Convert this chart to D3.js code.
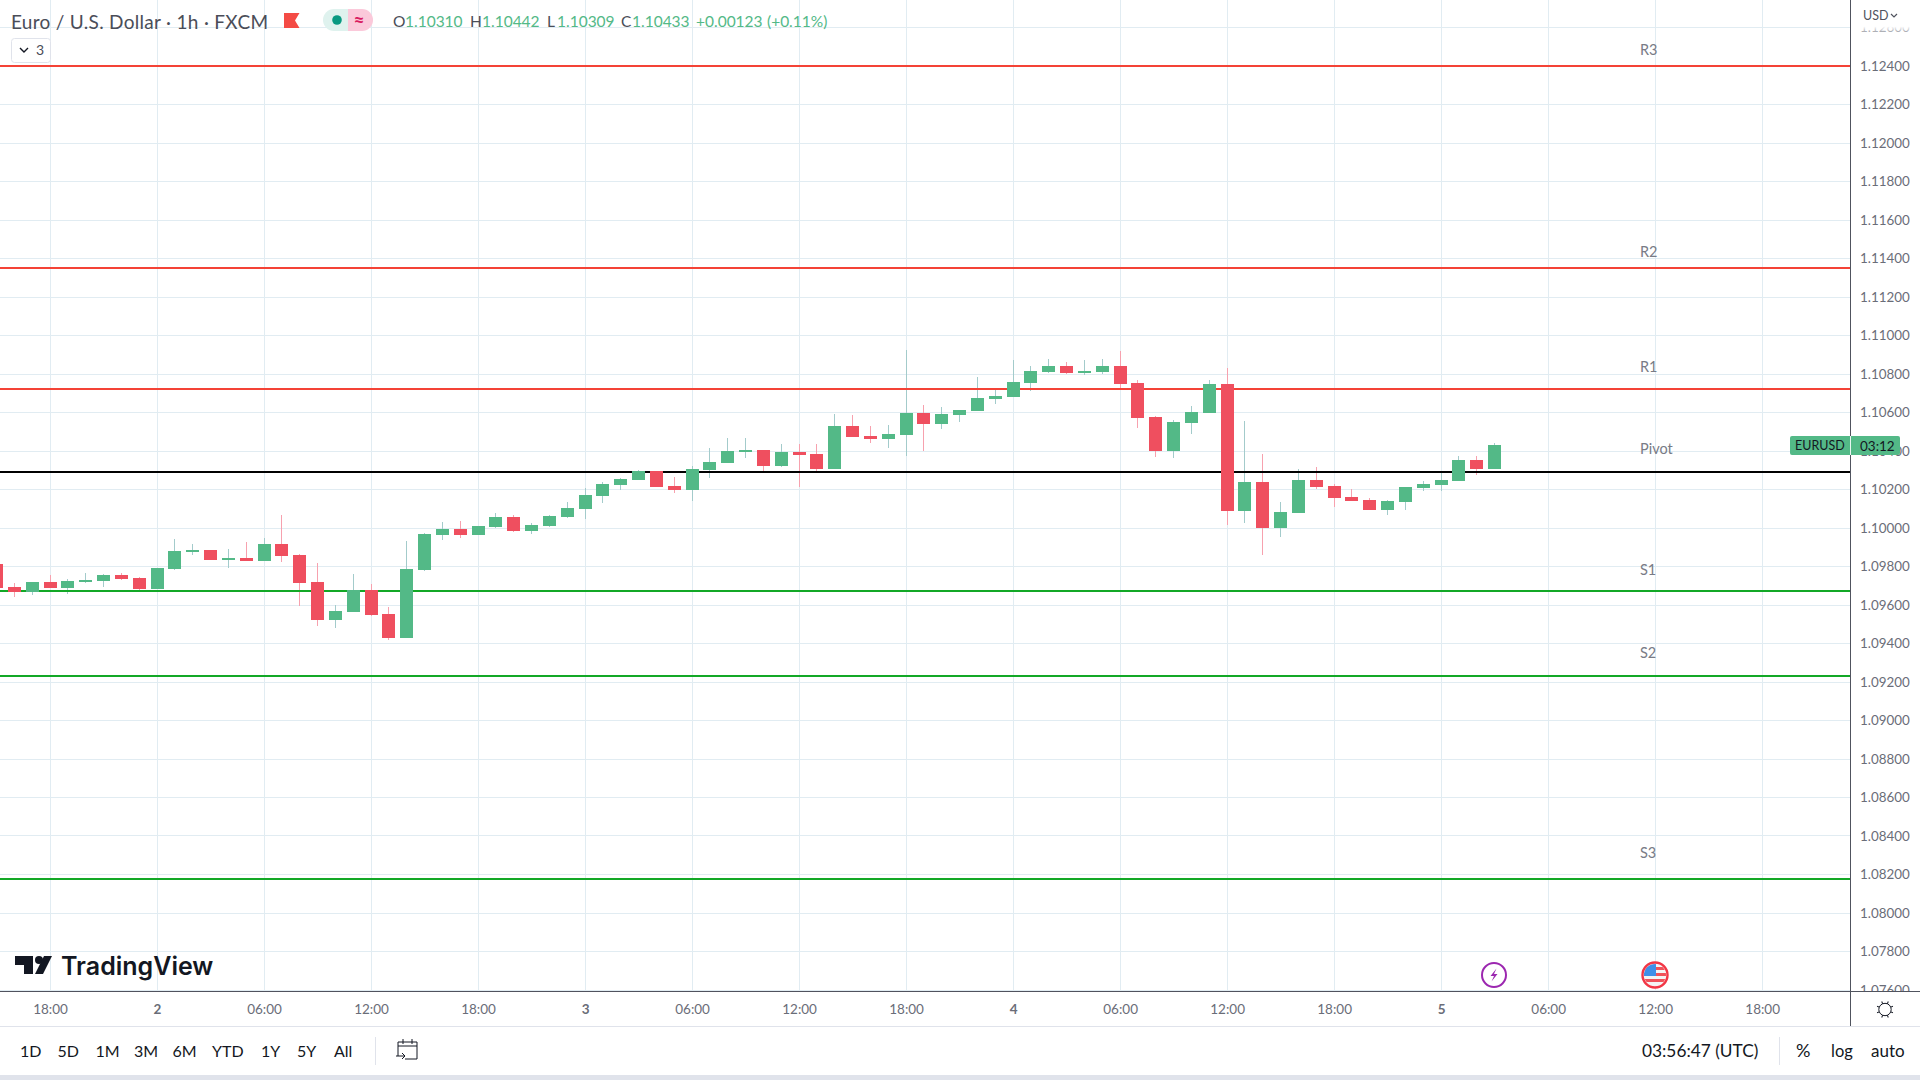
<!DOCTYPE html>
<html>
<head>
<meta charset="utf-8">
<script src="https://cdn.jsdelivr.net/npm/d3@7/dist/d3.min.js"></script>
<style>
  body, html { margin: 0; padding: 0; background: #fff; overflow: hidden; }
  svg { display: block; }
  text { font-family: Lato, "Open Sans", sans-serif; }
</style>
</head>
<body>
<svg width="1920" height="1080"></svg>
<script>
// one entry per hourly bar, oldest first
var opens = [
  1.09813, 1.09694, 1.09668, 1.09720, 1.09688, 1.09720, 1.09725, 1.09756, 1.09740, 1.09683,
  1.09787, 1.09875, 1.09886, 1.09834, 1.09844, 1.09829, 1.09917, 1.09860, 1.09720, 1.09522,
  1.09564, 1.09678, 1.09553, 1.09429, 1.09782, 1.09964, 1.09995, 1.09964, 1.10005, 1.10057,
  1.09984, 1.10010, 1.10057, 1.10099, 1.10166, 1.10223, 1.10249, 1.10296, 1.10218, 1.10197,
  1.10301, 1.10338, 1.10395, 1.10405, 1.10322, 1.10395, 1.10384, 1.10307, 1.10530, 1.10478,
  1.10462, 1.10483, 1.10597, 1.10540, 1.10587, 1.10608, 1.10670, 1.10681, 1.10753, 1.10810,
  1.10842, 1.10805, 1.10810, 1.10842, 1.10753, 1.10577, 1.10400, 1.10545, 1.10597, 1.10748,
  1.10088, 1.10239, 1.10000, 1.10078, 1.10249, 1.10218, 1.10161, 1.10145, 1.10094, 1.10135,
  1.10208, 1.10223, 1.10244, 1.10353, 1.10310
];
var closes = [
  1.09688, 1.09668, 1.09720, 1.09688, 1.09725, 1.09730, 1.09756, 1.09735, 1.09683, 1.09792,
  1.09881, 1.09886, 1.09834, 1.09844, 1.09829, 1.09917, 1.09855, 1.09714, 1.09522, 1.09569,
  1.09678, 1.09548, 1.09429, 1.09787, 1.09969, 1.09995, 1.09964, 1.10010, 1.10057, 1.09984,
  1.10016, 1.10062, 1.10104, 1.10171, 1.10229, 1.10255, 1.10296, 1.10213, 1.10197, 1.10307,
  1.10343, 1.10400, 1.10405, 1.10322, 1.10395, 1.10379, 1.10307, 1.10530, 1.10473, 1.10462,
  1.10488, 1.10597, 1.10540, 1.10592, 1.10613, 1.10675, 1.10686, 1.10758, 1.10816, 1.10842,
  1.10805, 1.10816, 1.10842, 1.10748, 1.10571, 1.10400, 1.10551, 1.10603, 1.10748, 1.10088,
  1.10239, 1.10000, 1.10083, 1.10249, 1.10213, 1.10156, 1.10140, 1.10094, 1.10140, 1.10213,
  1.10229, 1.10249, 1.10353, 1.10306, 1.10433
];
var highs = [
  1.09813, 1.09714, 1.09720, 1.09756, 1.09735, 1.09766, 1.09761, 1.09766, 1.09746, 1.09792,
  1.09943, 1.09917, 1.09886, 1.09891, 1.09927, 1.09948, 1.10068, 1.09865, 1.09818, 1.09600,
  1.09761, 1.09709, 1.09590, 1.09933, 1.09974, 1.10031, 1.10036, 1.10010, 1.10078, 1.10068,
  1.10026, 1.10068, 1.10135, 1.10208, 1.10239, 1.10260, 1.10301, 1.10296, 1.10265, 1.10322,
  1.10416, 1.10468, 1.10468, 1.10405, 1.10436, 1.10436, 1.10436, 1.10592, 1.10587, 1.10530,
  1.10535, 1.10925, 1.10639, 1.10628, 1.10613, 1.10784, 1.10727, 1.10873, 1.10842, 1.10878,
  1.10862, 1.10873, 1.10878, 1.10920, 1.10769, 1.10582, 1.10561, 1.10634, 1.10769, 1.10831,
  1.10556, 1.10384, 1.10135, 1.10306, 1.10317, 1.10229, 1.10203, 1.10156, 1.10145, 1.10213,
  1.10244, 1.10296, 1.10374, 1.10374, 1.10442
];
var lows = [
  1.09688, 1.09642, 1.09652, 1.09688, 1.09657, 1.09714, 1.09694, 1.09730, 1.09673, 1.09683,
  1.09782, 1.09860, 1.09834, 1.09792, 1.09829, 1.09829, 1.09823, 1.09595, 1.09491, 1.09481,
  1.09564, 1.09543, 1.09418, 1.09429, 1.09777, 1.09938, 1.09948, 1.09964, 1.10000, 1.09979,
  1.09969, 1.10005, 1.10052, 1.10047, 1.10130, 1.10197, 1.10249, 1.10213, 1.10182, 1.10140,
  1.10260, 1.10338, 1.10364, 1.10296, 1.10317, 1.10213, 1.10291, 1.10307, 1.10473, 1.10442,
  1.10416, 1.10374, 1.10400, 1.10514, 1.10551, 1.10608, 1.10644, 1.10681, 1.10712, 1.10805,
  1.10800, 1.10795, 1.10800, 1.10722, 1.10519, 1.10369, 1.10364, 1.10488, 1.10597, 1.10016,
  1.10026, 1.09860, 1.09953, 1.10078, 1.10203, 1.10109, 1.10140, 1.10094, 1.10068, 1.10094,
  1.10192, 1.10192, 1.10244, 1.10275, 1.10309
];

var priceTicks = d3.range(1.076, 1.1261, 0.002);
var timeTickBars = [3, 9, 15, 21, 27, 33, 39, 45, 51, 57, 63, 69, 75, 81, 87, 93, 99];
var timeTickLabels = ['18:00', '2', '06:00', '12:00', '18:00', '3', '06:00', '12:00', '18:00', '4', '06:00', '12:00', '18:00', '5', '06:00', '12:00', '18:00'];
var dayLabels = ['2', '3', '4', '5'];

var resistanceNames = ['R3', 'R2', 'R1'];
var resistanceValues = [1.12400, 1.11353, 1.10723];
var pivotName = 'Pivot';
var pivotValue = 1.10291;
var supportNames = ['S1', 'S2', 'S3'];
var supportValues = [1.09673, 1.09231, 1.08178];

var rangeButtons = ['1D', '5D', '1M', '3M', '6M', 'YTD', '1Y', '5Y', 'All'];

var width = 1920, axisX = 1850, plotBottom = 992;
var green = '#53b987', red = '#ef4f5f', gridColor = '#e1ecf2', axisColor = '#50535e', labelColor = '#787b86';

var x = d3.scaleLinear().domain([0, 84]).range([-3.5, 1494.64]);
var y = d3.scaleLinear().domain([1.124, 1.078]).range([66, 951.5]);

function px(i) { return Math.floor(x(i)); }

var svg = d3.select('svg');
svg.append('defs').append('clipPath').attr('id', 'plot')
  .append('rect').attr('width', axisX).attr('height', plotBottom);

var plot = svg.append('g').attr('clip-path', 'url(#plot)').attr('shape-rendering', 'crispEdges');

// grid
plot.selectAll('.hgrid').data(priceTicks).enter().append('line')
  .attr('x1', 0).attr('x2', axisX)
  .attr('y1', function (d) { return Math.floor(y(d)) + 0.5; }).attr('y2', function (d) { return Math.floor(y(d)) + 0.5; })
  .attr('stroke', gridColor);
plot.selectAll('.vgrid').data(timeTickBars).enter().append('line')
  .attr('x1', function (d) { return px(d) + 0.5; }).attr('x2', function (d) { return px(d) + 0.5; })
  .attr('y1', 0).attr('y2', plotBottom)
  .attr('stroke', gridColor);

// candles
var bars = d3.range(opens.length);
function barColor(i) { return closes[i] >= opens[i] ? green : red; }
plot.selectAll('.wick').data(bars).enter().append('line')
  .attr('x1', function (i) { return px(i) + 0.5; })
  .attr('x2', function (i) { return px(i) + 0.5; })
  .attr('y1', function (i) { return Math.round(y(highs[i])); })
  .attr('y2', function (i) { return Math.round(y(lows[i])); })
  .attr('stroke', function (i) { return closes[i] >= opens[i] ? '#a3cbcb' : '#f7a1ae'; });

// pivot levels
var levels = resistanceValues.map(function (v) { return { v: v, c: '#f44336' }; })
  .concat([{ v: pivotValue, c: '#000000' }])
  .concat(supportValues.map(function (v) { return { v: v, c: '#13a826' }; }));
plot.selectAll('.level').data(levels).enter().append('line')
  .attr('x1', 0).attr('x2', axisX)
  .attr('y1', function (d) { return Math.round(y(d.v)); }).attr('y2', function (d) { return Math.round(y(d.v)); })
  .attr('stroke', function (d) { return d.c; }).attr('stroke-width', 2);

plot.selectAll('.body').data(bars).enter().append('rect')
  .attr('x', function (i) { return px(i) - 6; })
  .attr('width', 13)
  .attr('y', function (i) { return Math.round(y(Math.max(opens[i], closes[i]))); })
  .attr('height', function (i) { return Math.max(1, Math.round(Math.abs(y(opens[i]) - y(closes[i])))); })
  .attr('fill', barColor);

// level names sit a little above each line, offsets differ per level
var levelNames = resistanceNames.concat([pivotName]).concat(supportNames);
var nameLift = [16, 16, 22, 23.5, 21.5, 23, 26];
svg.selectAll('.levelname').data(levelNames).enter().append('text')
  .attr('x', 1640).attr('y', function (d, i) { return y(levels[i].v) - nameLift[i]; })
  .attr('dy', '0.35em').attr('font-size', 14.5).attr('fill', labelColor).text(function (d) { return d; });

// price axis
var priceAxis = d3.axisRight(y).tickValues(priceTicks).tickSize(0).tickPadding(10)
  .tickFormat(d3.format('.5f'));
var yAxis = svg.append('g').attr('transform', 'translate(' + axisX + ',0)').call(priceAxis);
yAxis.select('.domain').remove();
yAxis.selectAll('text').attr('font-size', 13.4).attr('fill', '#6a6d78')
  .style('font-family', 'Lato, sans-serif');

// cover for price labels leaving the top and the bottom of the axis
var fade = svg.select('defs').append('linearGradient').attr('id', 'topfade').attr('x1', 0).attr('x2', 0).attr('y1', 0).attr('y2', 1);
fade.append('stop').attr('offset', 0.8).attr('stop-color', '#fff');
fade.append('stop').attr('offset', 1).attr('stop-color', '#fff').attr('stop-opacity', 0.3);
svg.append('rect').attr('x', axisX + 1).attr('y', 0).attr('width', 70).attr('height', 33).attr('fill', 'url(#topfade)');
svg.append('rect').attr('x', 0).attr('y', plotBottom).attr('width', width).attr('height', 88).attr('fill', '#fff');
svg.append('text').attr('x', 1863).attr('y', 16).attr('dy', '0.35em').attr('font-size', 12.5).attr('fill', '#50535e').text('USD');
svg.append('path').attr('d', 'M1891 14l3 3l3 -3').attr('fill', 'none').attr('stroke', '#50535e').attr('stroke-width', 1.2);

// axis lines
var frame = svg.append('g').attr('shape-rendering', 'crispEdges');
frame.append('line').attr('x1', axisX + 0.5).attr('x2', axisX + 0.5).attr('y1', 0).attr('y2', 1026).attr('stroke', axisColor);
frame.append('line').attr('x1', 0).attr('x2', width).attr('y1', plotBottom - 0.5).attr('y2', plotBottom - 0.5).attr('stroke', axisColor);
frame.append('line').attr('x1', 0).attr('x2', width).attr('y1', 1026.5).attr('y2', 1026.5).attr('stroke', '#e0e3eb');
frame.append('rect').attr('x', 0).attr('y', 1075).attr('width', width).attr('height', 5).attr('fill', '#e0e3eb');

// time axis
var timeAxis = d3.axisBottom(x).tickValues(timeTickBars).tickSize(0).tickPadding(12)
  .tickFormat(function (d) { return timeTickLabels[timeTickBars.indexOf(d)]; });
var xAxis = svg.append('g').attr('transform', 'translate(0,' + plotBottom + ')').call(timeAxis);
xAxis.select('.domain').remove();
xAxis.selectAll('.tick').filter(function (d) { return x(d) > axisX; }).remove();
xAxis.selectAll('text').attr('font-size', 13.5).attr('fill', '#6a6d78')
  .style('font-family', 'Lato, sans-serif')
  .attr('font-weight', function (d) { return dayLabels.indexOf(timeTickLabels[timeTickBars.indexOf(d)]) >= 0 ? 700 : 400; });

// gear
var gear = svg.append('g').attr('transform', 'translate(1885,1009.5)').attr('fill', 'none').attr('stroke', '#131722');
gear.append('circle').attr('r', 6.2);
d3.range(8).forEach(function (k) {
  gear.append('line').attr('x1', 0).attr('x2', 0).attr('y1', -6.2).attr('y2', -8.6)
    .attr('transform', 'rotate(' + (k * 45 + 22.5) + ')');
});

// current price tag
svg.append('rect').attr('x', 1790).attr('y', 436).attr('width', 110).attr('height', 19).attr('rx', 2).attr('fill', green);
svg.append('line').attr('x1', axisX + 0.5).attr('x2', axisX + 0.5).attr('y1', 436).attr('y2', 455).attr('stroke', '#e9f6f0').attr('shape-rendering', 'crispEdges');
svg.append('text').attr('x', 1795).attr('y', 446).attr('dy', '0.35em').attr('font-size', 12.5).attr('fill', '#131722').text('EURUSD');
svg.append('text').attr('x', 1860).attr('y', 446).attr('dy', '0.35em').attr('font-size', 13.5).attr('fill', '#131722').text('03:12');

// header
svg.append('text').attr('x', 11).attr('y', 22).attr('dy', '0.35em').attr('font-size', 19).attr('letter-spacing', 0.3).attr('fill', '#4a4d58')
  .text('Euro / U.S. Dollar \u00b7 1h \u00b7 FXCM');
svg.append('path').attr('d', 'M284 13h15.5l-4.5 7.5l4.5 7.5h-15.5z').attr('fill', '#f44b45');
svg.append('path').attr('d', 'M334 9h14v22h-14a11 11 0 0 1 0 -22z').attr('fill', '#dff2ee');
svg.append('path').attr('d', 'M348 9h14a11 11 0 0 1 0 22h-14z').attr('fill', '#fbc9da');
svg.append('circle').attr('cx', 337).attr('cy', 20).attr('r', 4.8).attr('fill', '#089981');
svg.append('text').attr('x', 359).attr('y', 20).attr('dy', '0.35em').attr('text-anchor', 'middle').attr('font-size', 19).attr('font-weight', 700).attr('fill', '#d81b60').text('\u2248');

var ohlcNames = ['O', 'H', 'L', 'C'];
var ohlcNameX = [393, 470, 547, 621];
var ohlcValueX = [405, 482, 557, 632];
var last = closes.length - 1;
var ohlcValues = [opens[last], highs[last], lows[last], closes[last]];
ohlcNames.forEach(function (n, i) {
  svg.append('text').attr('x', ohlcNameX[i]).attr('y', 22).attr('dy', '0.35em').attr('font-size', 15.5).attr('fill', '#4a4d58').text(n);
  svg.append('text').attr('x', ohlcValueX[i]).attr('y', 22).attr('dy', '0.35em').attr('font-size', 15.5).attr('fill', green).text(d3.format('.5f')(ohlcValues[i]));
});
svg.append('text').attr('x', 696).attr('y', 22).attr('dy', '0.35em').attr('font-size', 15.5).attr('fill', green).text('+0.00123');
svg.append('text').attr('x', 767).attr('y', 22).attr('dy', '0.35em').attr('font-size', 15.5).attr('fill', green).text('(+0.11%)');

svg.append('rect').attr('x', 11.5).attr('y', 38.5).attr('width', 39).attr('height', 24).attr('rx', 3).attr('fill', '#fff').attr('stroke', '#e0e3eb');
svg.append('path').attr('d', 'M20 48l4 4l4 -4').attr('fill', 'none').attr('stroke', '#131722').attr('stroke-width', 1.4);
svg.append('text').attr('x', 36).attr('y', 50).attr('dy', '0.35em').attr('font-size', 14).attr('fill', '#4a4d58').text('3');

// logo
svg.append('path').attr('d', 'M15 956h18v18h-9v-9h-9z').attr('fill', '#131722');
svg.append('circle').attr('cx', 39).attr('cy', 960).attr('r', 4).attr('fill', '#131722');
svg.append('path').attr('d', 'M44 956h8l-9 18h-8z').attr('fill', '#131722');
svg.append('text').attr('x', 61).attr('y', 966).attr('dy', '0.35em').attr('font-size', 25).attr('font-weight', 600)
  .style('font-family', 'Inter, sans-serif').attr('fill', '#131722').text('TradingView');

// events
var bolt = svg.append('g').attr('transform', 'translate(1494,975)');
bolt.append('circle').attr('r', 12).attr('fill', '#fff').attr('stroke', '#9c27b0').attr('stroke-width', 2);
bolt.append('path').attr('d', 'M2.5 -6.5l-6 7.5h3.5l-2.5 5.5l6 -7.5h-3.5z').attr('fill', '#9c27b0');
var flag = svg.append('g').attr('transform', 'translate(1655,975)');
flag.append('clipPath').attr('id', 'flagclip').append('circle').attr('r', 11);
var flagInner = flag.append('g').attr('clip-path', 'url(#flagclip)');
flagInner.append('rect').attr('x', -11).attr('y', -11).attr('width', 22).attr('height', 22).attr('fill', '#f4f4f4');
d3.range(3).forEach(function (k) {
  flagInner.append('rect').attr('x', -11).attr('y', -8 + k * 6).attr('width', 22).attr('height', 3).attr('fill', '#f0525a');
});
flagInner.append('rect').attr('x', -11).attr('y', -11).attr('width', 12).attr('height', 12).attr('fill', '#3f8fe8');
flag.append('circle').attr('r', 12.5).attr('fill', 'none').attr('stroke', '#f23645').attr('stroke-width', 2.4);

// bottom toolbar
var rangeX = [20, 57.5, 95.5, 134, 172.5, 212, 261, 297, 334];
svg.selectAll('.range').data(rangeButtons).enter().append('text')
  .attr('x', function (d, i) { return rangeX[i]; }).attr('y', 1051).attr('dy', '0.35em')
  .attr('font-size', 16).attr('fill', '#131722').text(function (d) { return d; });
svg.append('line').attr('x1', 375.5).attr('x2', 375.5).attr('y1', 1037).attr('y2', 1065).attr('stroke', '#e0e3eb');
svg.append('path').attr('d', 'M398 1056v-14h19v17h-12M398 1046h19M403 1039v5M412 1039v5M396 1056h9M402 1053l3 3l-3 3')
  .attr('fill', 'none').attr('stroke', '#131722');
svg.append('text').attr('x', 1642).attr('y', 1051).attr('dy', '0.35em').attr('font-size', 17.3).attr('fill', '#131722').text('03:56:47 (UTC)');
svg.append('line').attr('x1', 1779.5).attr('x2', 1779.5).attr('y1', 1037).attr('y2', 1065).attr('stroke', '#e0e3eb');
svg.append('text').attr('x', 1796).attr('y', 1051).attr('dy', '0.35em').attr('font-size', 18).attr('fill', '#131722').text('%');
svg.append('text').attr('x', 1831).attr('y', 1051).attr('dy', '0.35em').attr('font-size', 16.5).attr('fill', '#131722').text('log');
svg.append('text').attr('x', 1871).attr('y', 1051).attr('dy', '0.35em').attr('font-size', 17).attr('fill', '#131722').text('auto');
</script>
</body>
</html>
